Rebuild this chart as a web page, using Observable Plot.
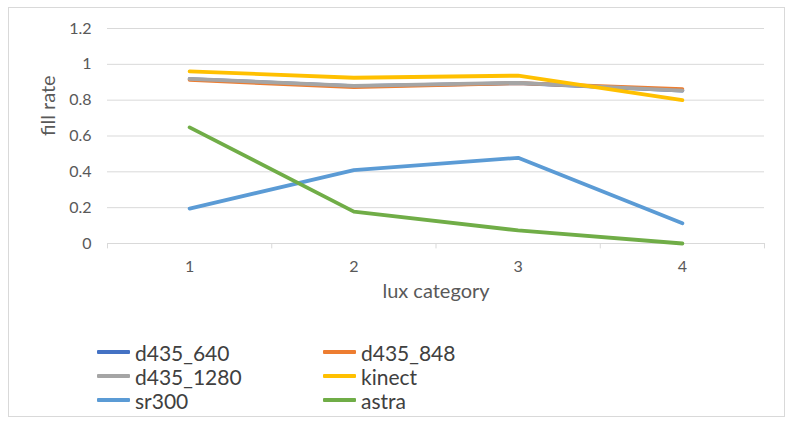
<!DOCTYPE html>
<html><head><meta charset="utf-8">
<script src="https://cdn.jsdelivr.net/npm/d3@7"></script>
<script src="https://cdn.jsdelivr.net/npm/@observablehq/plot@0.6"></script>
<style>
body{margin:0;background:#fff;font-family:Lato,sans-serif;}
#frame{position:absolute;left:8px;top:7px;width:777px;height:410px;border:1px solid #d9d9d9;box-sizing:border-box;}
#chart{position:absolute;left:0;top:0;}
#legend{position:absolute;left:97px;top:340px;display:grid;grid-template-columns:226px 200px;font-size:21px;color:#404040;}
.item{display:flex;align-items:center;height:24px;white-space:nowrap;}
.sw{width:33px;height:4px;margin-right:5px;border-radius:1px;}
</style></head>
<body>
<div id="frame"></div>
<div id="chart"></div>
<div id="legend"></div>
<script>
const categories = [1, 2, 3, 4];
const seriesNames = ["d435_640", "d435_848", "d435_1280", "kinect", "sr300", "astra"];
const seriesColors = ["#4472C4", "#ED7D31", "#A5A5A5", "#FFC000", "#5B9BD5", "#70AD47"];
const d435_640 = [0.918, 0.878, 0.895, 0.853];
const d435_848 = [0.913, 0.873, 0.895, 0.862];
const d435_1280 = [0.919, 0.880, 0.897, 0.853];
const kinect = [0.961, 0.925, 0.937, 0.800];
const sr300 = [0.195, 0.410, 0.478, 0.113];
const astra = [0.648, 0.178, 0.073, 0.000];
const yTicks = [0, 0.2, 0.4, 0.6, 0.8, 1, 1.2];
const yTickLabels = ["0", "0.2", "0.4", "0.6", "0.8", "1", "1.2"];
const categoryBounds = [0.5, 1.5, 2.5, 3.5, 4.5];

const values = [d435_640, d435_848, d435_1280, kinect, sr300, astra];
const rows = [];
seriesNames.forEach((s, i) => categories.forEach((c, j) => rows.push({series: s, cat: c, value: values[i][j]})));

const chart = Plot.plot({
  width: 794, height: 320,
  marginLeft: 107, marginRight: 30, marginTop: 28, marginBottom: 77,
  style: {fontFamily: "Lato, sans-serif", fontSize: "16px", color: "#595959", background: "transparent"},
  x: {type: "linear", domain: [0.5, 4.5], ticks: categories, tickSize: 0, tickPadding: 17, tickFormat: d => String(d), label: null},
  y: {domain: [0, 1.2], ticks: yTicks, tickSize: 0, tickPadding: 16, tickFormat: (d, i) => yTickLabels[yTicks.indexOf(d)], label: null},
  color: {domain: seriesNames, range: seriesColors},
  marks: [
    Plot.ruleY(yTicks, {stroke: "#d9d9d9", strokeWidth: 1}),
    Plot.ruleX(categoryBounds, {y1: 0, y2: -0.03, stroke: "#d9d9d9"}),
    Plot.line(rows, {x: "cat", y: "value", z: "series", stroke: "series", strokeWidth: 3.8, strokeLinejoin: "round", strokeLinecap: "round"}),
    Plot.text(["fill rate"], {text: d => d, frameAnchor: "left", dx: -59, rotate: -90, fontSize: 20, fill: "#595959"}),
    Plot.text(["lux category"], {text: d => d, frameAnchor: "bottom", dy: 54, fontSize: 20, fill: "#595959"})
  ]
});
document.getElementById("chart").appendChild(chart);

const legend = document.getElementById("legend");
seriesNames.forEach((s, i) => {
  const item = document.createElement("div");
  item.className = "item";
  const sw = document.createElement("span");
  sw.className = "sw";
  sw.style.background = seriesColors[i];
  const t = document.createElement("span");
  t.textContent = s;
  item.appendChild(sw); item.appendChild(t);
  legend.appendChild(item);
});
</script>
</body></html>
